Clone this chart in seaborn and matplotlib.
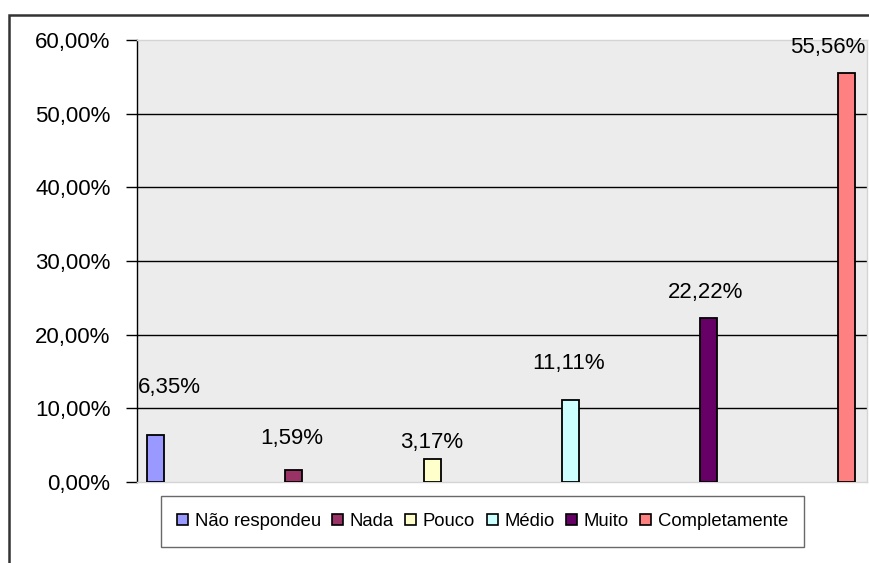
import matplotlib
matplotlib.use("Agg")
import matplotlib.pyplot as plt
from matplotlib.patches import Rectangle
from matplotlib.ticker import FuncFormatter
import seaborn as sns
import pandas as pd

categories = ["Não respondeu", "Nada", "Pouco", "Médio", "Muito", "Completamente"]
values = [6.35, 1.59, 3.17, 11.11, 22.22, 55.56]
colors = ["#9999FF", "#993366", "#FFFFCC", "#CCFFFF", "#660066", "#FF8080"]
y_ticks = [0, 10, 20, 30, 40, 50, 60]

# value label offsets (pixels) from the top of each bar
label_offsets = [(14, 48), (-2, 32), (0, 16), (-2, 37), (-3, 26), (-19, 25)]

df = pd.DataFrame({"categoria": categories, "valor": values})

sns.set_theme(style="white")
plt.rcParams["font.family"] = ["Liberation Sans", "DejaVu Sans"]
plt.rcParams["text.color"] = "black"
plt.rcParams["ytick.color"] = "black"
plt.rcParams["ytick.labelcolor"] = "black"

fig = plt.figure(figsize=(8.7, 5.63), dpi=100)
ax = fig.add_axes([137 / 870, 1 - 482 / 563, 730 / 870, 442 / 563])
ax.set_facecolor("#ECECEC")

sns.barplot(data=df, x="categoria", y="valor", hue="categoria",
            palette=colors, order=categories, hue_order=categories,
            width=0.123, dodge=False, saturation=1, edgecolor="black",
            linewidth=1.3, legend=True, ax=ax, zorder=3)

for i, (v, (dx, dy)) in enumerate(zip(values, label_offsets)):
    ax.annotate(f"{v:.2f}%".replace(".", ","), xy=(i, v), xytext=(dx, dy),
                textcoords="offset pixels", ha="center", va="center",
                fontsize=16, color="black", annotation_clip=False, zorder=4)

ax.set_xlim(-0.134, 5.145)
ax.set_ylim(0, 60)
ax.set_yticks(y_ticks)
ax.yaxis.set_major_formatter(FuncFormatter(lambda v, p: f"{v:.2f}%".replace(".", ",")))
ax.tick_params(axis="y", which="major", left=True, length=8, width=1,
               color="black", labelcolor="black", labelsize=16, pad=11)
ax.tick_params(axis="x", bottom=False, labelbottom=False)
ax.set_xlabel("")
ax.set_ylabel("")

ax.yaxis.grid(True, color="black", linewidth=1)
ax.set_axisbelow(True)
grid = ax.yaxis.get_gridlines()
grid[0].set_visible(False)
grid[-1].set_visible(False)

for side in ["top", "right", "bottom"]:
    ax.spines[side].set_color("#D4D4D4")
    ax.spines[side].set_linewidth(1)
ax.spines["left"].set_color("black")
ax.spines["left"].set_linewidth(1)

handles, labels = ax.get_legend_handles_labels()
ax.get_legend().remove()
for h in handles:
    h.set_edgecolor("black")
    h.set_linewidth(1.2)
leg = fig.legend(handles, labels, loc="center", bbox_to_anchor=(482.5 / 870, 1 - 521.5 / 563),
                 ncol=6, fontsize=13.3, frameon=True, fancybox=False,
                 handlelength=0.6, handleheight=0.6, handletextpad=0.35,
                 columnspacing=0.62, borderpad=0.9, borderaxespad=0,
                 labelcolor="black")
leg.get_frame().set_edgecolor("#444444")
leg.get_frame().set_linewidth(1)

# outer chart frame
fig.patches.append(Rectangle((9 / 870, -0.1), 1.2, 1 - 15 / 563 + 0.1,
                             transform=fig.transFigure, fill=False,
                             edgecolor="#333333", linewidth=1.8, zorder=0))

fig.savefig("out.png", dpi=100)
